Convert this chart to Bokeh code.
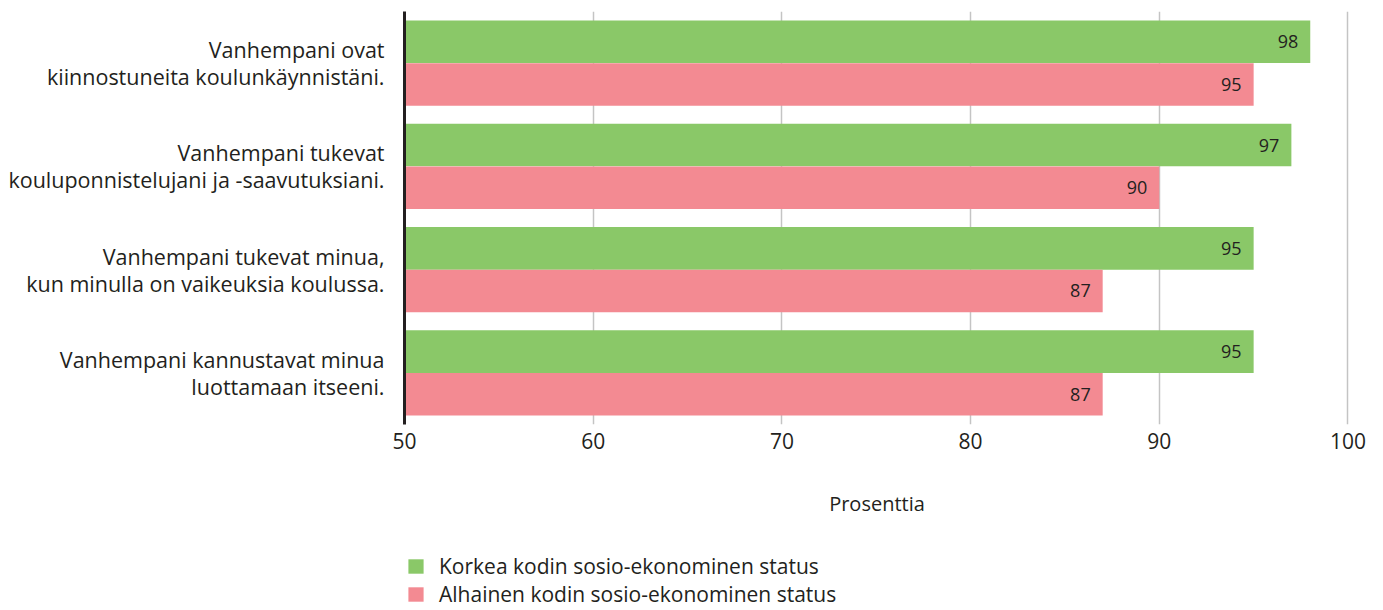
from bokeh.plotting import figure
from bokeh.layouts import column
from bokeh.models import ColumnDataSource, FactorRange, Range1d, Legend, LegendItem, FixedTicker
from bokeh.transform import dodge
from bokeh.core.properties import value
from bokeh.embed import file_html
from bokeh.resources import INLINE

categories = [
    "Vanhempani ovat\nkiinnostuneita koulunkäynnistäni.",
    "Vanhempani tukevat\nkouluponnistelujani ja -saavutuksiani.",
    "Vanhempani tukevat minua,\nkun minulla on vaikeuksia koulussa.",
    "Vanhempani kannustavat minua\nluottamaan itseeni.",
]
high_ses = [98, 97, 95, 95]
low_ses = [95, 90, 87, 87]
series_names = ["Korkea kodin sosio-ekonominen status", "Alhainen kodin sosio-ekonominen status"]
x_ticks = [50, 60, 70, 80, 90, 100]
x_title = "Prosenttia"

GREEN = "#8AC868"
PINK = "#F38A92"
TEXT = "#231f20"
FONT = "Open Sans"

src = ColumnDataSource(dict(
    cat=categories,
    high=high_ses,
    low=low_ses,
    high_lbl=[str(v) for v in high_ses],
    low_lbl=[str(v) for v in low_ses],
))

p = figure(
    width=1367, height=540,
    x_range=Range1d(50, 100.08),
    y_range=FactorRange(*reversed(categories)),
    output_backend="svg", toolbar_location=None,
    min_border_left=404, min_border_right=18, min_border_top=11, min_border_bottom=116,
)
p.outline_line_color = None
p.background_fill_color = "white"
p.border_fill_color = "white"

bw = 0.413
off = bw / 2
p.hbar(y=dodge("cat", off, range=p.y_range), left=50, right="high", height=bw,
       source=src, fill_color=GREEN, line_color=None)
p.hbar(y=dodge("cat", -off, range=p.y_range), left=50, right="low", height=bw,
       source=src, fill_color=PINK, line_color=None)

common = dict(text_align="right", text_baseline="middle", x_offset=-12,
              text_font=value(FONT), text_font_size="18px", text_color=TEXT, source=src)
p.text(x="high", y=dodge("cat", off, range=p.y_range), text="high_lbl", **common)
p.text(x="low", y=dodge("cat", -off, range=p.y_range), text="low_lbl", **common)

# x axis
xa = p.xaxis[0]
xa.ticker = FixedTicker(ticks=x_ticks)
xa.axis_line_color = None
xa.major_tick_line_color = None
xa.minor_tick_line_color = None
xa.major_label_text_font = FONT
xa.major_label_text_font_size = "21px"
xa.major_label_text_color = TEXT
xa.major_label_standoff = 2
xa.axis_label = x_title
xa.axis_label_text_font = FONT
xa.axis_label_text_font_size = "20px"
xa.axis_label_text_font_style = "normal"
xa.axis_label_text_color = TEXT
xa.axis_label_standoff = 38

# y axis
ya = p.yaxis[0]
ya.axis_line_color = TEXT
ya.axis_line_width = 3
ya.major_tick_line_color = None
ya.minor_tick_line_color = None
ya.major_label_text_font = FONT
ya.major_label_text_font_size = "21.5px"
ya.major_label_text_color = TEXT
ya.major_label_text_line_height = 0.936
ya.major_label_standoff = 14

p.xgrid.ticker = FixedTicker(ticks=[t for t in x_ticks if t > 50])
p.xgrid.grid_line_color = "#c4c4c4"
p.xgrid.grid_line_width = 1.5
p.ygrid.grid_line_color = None

# legend strip below the chart (legend proxies use the real data but lie outside this strip's ranges)
lg = figure(
    width=1367, height=68, x_range=Range1d(0, 1), y_range=Range1d(0, 1),
    output_backend="svg", toolbar_location=None,
    x_axis_location=None, y_axis_location=None,
    min_border=0, min_border_left=0, min_border_right=0, min_border_top=0, min_border_bottom=0,
)
lg.outline_line_color = None
lg.grid.visible = False
g_high = lg.hbar(y=-50, left=50, right="high", height=0.1, source=src, fill_color=GREEN, line_color=None)
g_low = lg.hbar(y=-50, left=50, right="low", height=0.1, source=src, fill_color=PINK, line_color=None)

legend = Legend(
    items=[LegendItem(label=series_names[0], renderers=[g_high]),
           LegendItem(label=series_names[1], renderers=[g_low])],
    location=(2, 0),
    orientation="vertical",
    margin=0, padding=0, spacing=0,
    glyph_width=19, glyph_height=18, label_height=18,
    label_standoff=14,
    label_text_font=FONT, label_text_font_size="21px", label_text_color=TEXT,
    border_line_color=None, background_fill_alpha=0,
)
lg.add_layout(legend, "center")

layout = column(p, lg, spacing=0)
open("out.html", "w").write(file_html(layout, INLINE))
